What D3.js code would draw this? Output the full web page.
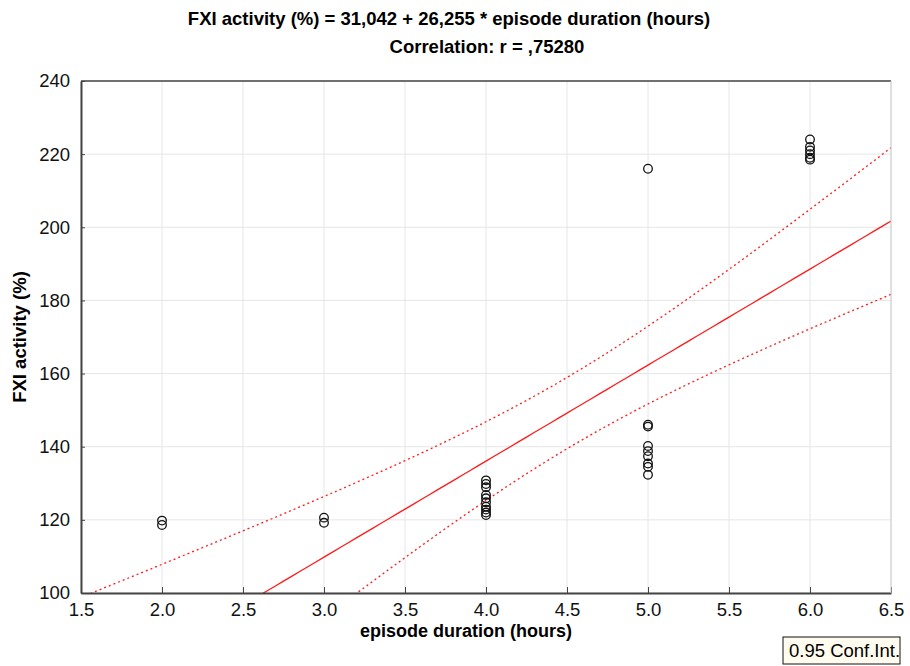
<!DOCTYPE html>
<html>
<head>
<meta charset="utf-8">
<script src="https://cdn.jsdelivr.net/npm/d3@7"></script>
<style>
  body { margin: 0; background: #fff; }
  svg text { font-family: Arial, "Liberation Sans", sans-serif; }
  .grid line { stroke: #e6e6e6; stroke-width: 1; }
  .axis path, .axis line { stroke: #444; }
  .axis text { font-size: 18.5px; fill: #111; }
</style>
</head>
<body>
<div id="chart-div"></div>
<script>
var fn = {};
var vars = {};

// data
var durations = [2, 2, 3, 3,
  4, 4, 4, 4, 4, 4, 4, 4, 4, 4,
  5, 5, 5, 5, 5, 5, 5, 5, 5,
  6, 6, 6, 6, 6, 6];
var fxiActivity = [119.8, 118.6, 120.6, 119.2,
  130.8, 129.8, 128.9, 126.8, 125.9, 124.8, 123.6, 122.8, 122.0, 121.3,
  216.0, 146.0, 145.5, 140.2, 138.8, 137.4, 135.4, 134.5, 132.3,
  224.0, 222.0, 221.0, 220.0, 219.0, 218.5];
// fit as printed in the title
var intercept = 31.042;
var slope = 26.255;
var xTicks = [1.5, 2.0, 2.5, 3.0, 3.5, 4.0, 4.5, 5.0, 5.5, 6.0, 6.5];
var yTicks = [100, 120, 140, 160, 180, 200, 220, 240];
var titleLines = ["FXI activity (%) = 31,042 + 26,255 * episode duration (hours)",
  "Correlation: r = ,75280"];
var xLabel = "episode duration (hours)";
var yLabel = "FXI activity (%)";
var legendText = "0.95 Conf.Int.";

vars.margin = { top: 81, right: 19, bottom: 73, left: 81 };
vars.chart = {
  width: 910 - vars.margin.left - vars.margin.right,
  height: 666 - vars.margin.top - vars.margin.bottom
};

// 95% band for the mean around the printed line
fn.band = function(xs, ys, a, b) {
  var n = xs.length;
  var mx = d3.mean(xs);
  var sxx = d3.sum(xs, function(x) { return (x - mx) * (x - mx); });
  var sse = d3.sum(xs, function(x, i) {
    var r = ys[i] - (a + b * x);
    return r * r;
  });
  var s = Math.sqrt(sse / (n - 2));
  var t = 2.052; // t(0.975, 27)
  return function(x) {
    return t * s * Math.sqrt(1 / n + (x - mx) * (x - mx) / sxx);
  };
};

fn.main = function() {
  var w = vars.chart.width, h = vars.chart.height;
  var svg = d3.select("#chart-div").append("svg")
    .attr("width", 910).attr("height", 666);

  var g = svg.append("g")
    .attr("transform", "translate(" + vars.margin.left + "," + vars.margin.top + ")");

  var x = d3.scaleLinear().domain([1.5, 6.5]).range([0, w]);
  var y = d3.scaleLinear().domain([100, 240]).range([h, 0]);

  // grid
  var grid = g.append("g").attr("class", "grid");
  grid.selectAll("line.v").data(xTicks).enter().append("line")
    .attr("x1", function(d) { return x(d); }).attr("x2", function(d) { return x(d); })
    .attr("y1", 0).attr("y2", h);
  grid.selectAll("line.h").data(yTicks).enter().append("line")
    .attr("y1", function(d) { return y(d); }).attr("y2", function(d) { return y(d); })
    .attr("x1", 0).attr("x2", w);

  svg.append("defs").append("clipPath").attr("id", "plot-clip")
    .append("rect").attr("width", w).attr("height", h);

  var band = fn.band(durations, fxiActivity, intercept, slope);
  var xs = d3.range(1.5, 6.5001, 0.05);
  var clipped = g.append("g").attr("clip-path", "url(#plot-clip)");

  var line = d3.line()
    .x(function(d) { return x(d[0]); })
    .y(function(d) { return y(d[1]); });

  clipped.append("path")
    .datum(xs.map(function(v) { return [v, intercept + slope * v]; }))
    .attr("d", line).attr("fill", "none")
    .attr("stroke", "#ff1a1a").attr("stroke-width", 1.3);

  [1, -1].forEach(function(sign) {
    clipped.append("path")
      .datum(xs.map(function(v) { return [v, intercept + slope * v + sign * band(v)]; }))
      .attr("d", line).attr("fill", "none")
      .attr("stroke", "#ff1a1a").attr("stroke-width", 1.3)
      .attr("stroke-dasharray", "2,3");
  });

  // points
  g.append("g").selectAll("circle")
    .data(durations.map(function(d, i) { return { x: d, y: fxiActivity[i] }; }))
    .enter().append("circle")
    .attr("cx", function(d) { return x(d.x); })
    .attr("cy", function(d) { return y(d.y); })
    .attr("r", 4.3)
    .attr("fill", "none")
    .attr("stroke", "#111")
    .attr("stroke-width", 1.3);

  // axes, ticks pointing inward
  var xAxis = g.append("g").attr("class", "axis")
    .attr("transform", "translate(0," + h + ")")
    .call(d3.axisBottom(x).tickValues(xTicks).tickFormat(d3.format(".1f"))
      .tickSizeInner(-6).tickSizeOuter(0).tickPadding(10));
  xAxis.select(".domain").attr("stroke-width", 2);

  var yAxis = g.append("g").attr("class", "axis")
    .call(d3.axisLeft(y).tickValues(yTicks)
      .tickSizeInner(-4).tickSizeOuter(0).tickPadding(11));
  yAxis.select(".domain").attr("stroke-width", 2);

  // top and right frame
  g.append("line").attr("x1", 0).attr("x2", w).attr("y1", 0).attr("y2", 0)
    .attr("stroke", "#444").attr("stroke-width", 1.5);
  g.append("line").attr("x1", w).attr("x2", w).attr("y1", 0).attr("y2", h)
    .attr("stroke", "#ccc").attr("stroke-width", 1);

  // titles
  svg.append("text").attr("x", 449).attr("y", 25)
    .attr("text-anchor", "middle").attr("font-size", 18.5).attr("font-weight", "bold")
    .text(titleLines[0]);
  svg.append("text").attr("x", 487).attr("y", 53)
    .attr("text-anchor", "middle").attr("font-size", 18.5).attr("font-weight", "bold")
    .text(titleLines[1]);

  svg.append("text").attr("x", 466).attr("y", 637)
    .attr("text-anchor", "middle").attr("font-size", 18).attr("font-weight", "bold")
    .text(xLabel);
  svg.append("text")
    .attr("transform", "translate(26," + (vars.margin.top + h / 2) + ") rotate(-90)")
    .attr("text-anchor", "middle").attr("font-size", 18.5).attr("font-weight", "bold")
    .text(yLabel);

  // legend box
  var lg = svg.append("g").attr("transform", "translate(783,637)");
  lg.append("rect").attr("width", 117).attr("height", 27)
    .attr("fill", "#fffbee").attr("stroke", "#111").attr("stroke-width", 1);
  lg.append("text").attr("x", 6).attr("y", 20).attr("font-size", 18.5)
    .text(legendText);
};

fn.main();
</script>
</body>
</html>
